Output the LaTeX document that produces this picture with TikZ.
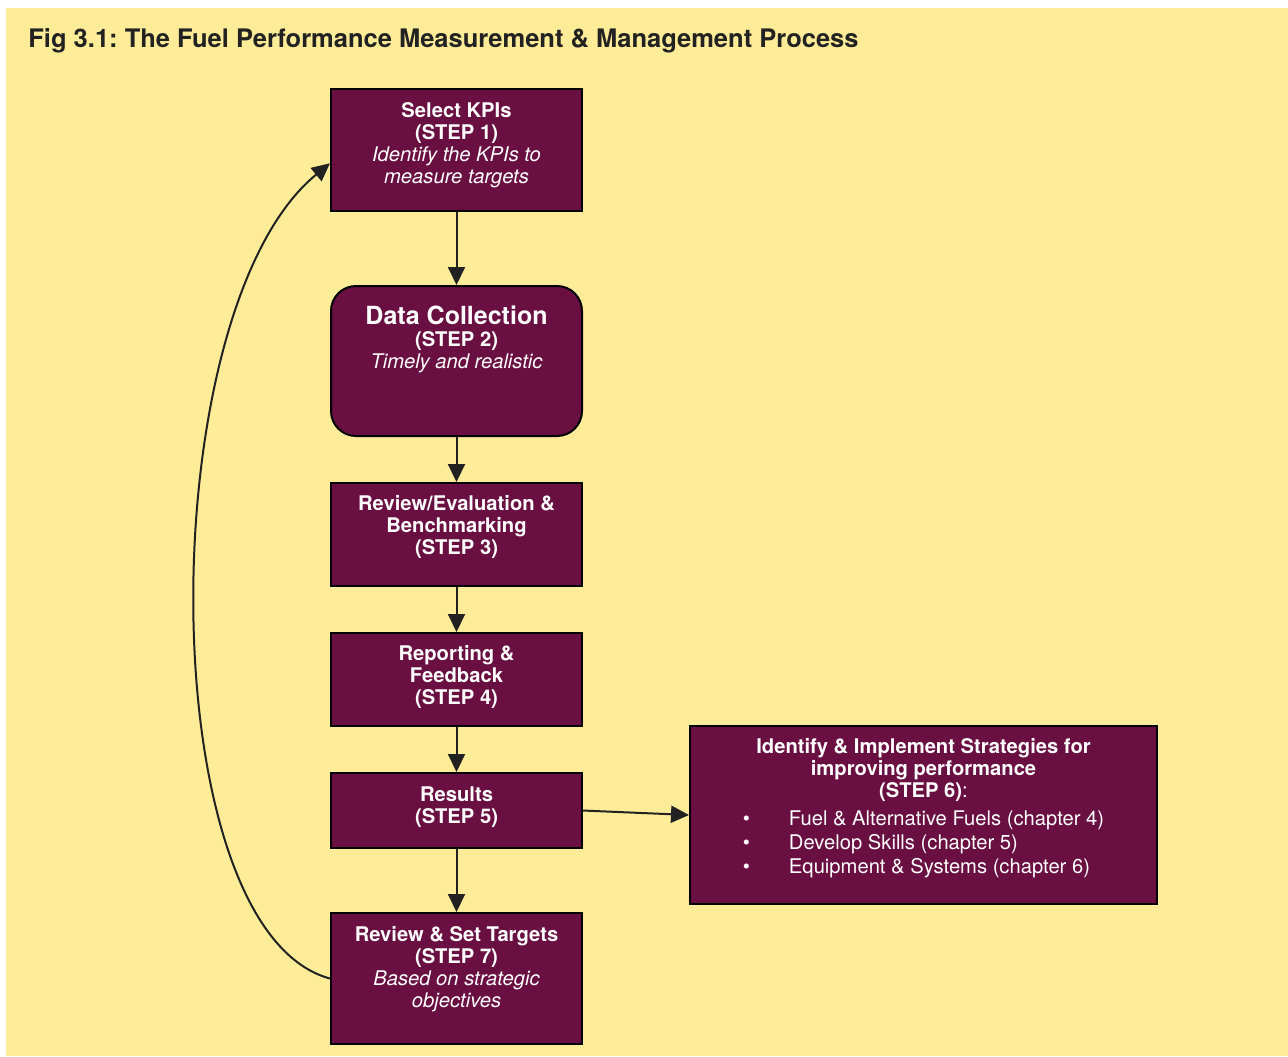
\documentclass[tikz,border=0pt]{standalone}
\usepackage{fontspec}
\setmainfont{TeX Gyre Heros}
\usetikzlibrary{positioning, arrows.meta}
\definecolor{panel}{RGB}{255,236,153}
\definecolor{plum}{RGB}{105,15,65}
\definecolor{ink}{RGB}{34,34,34}
\frenchspacing
\tikzset{
  >={Triangle[length=9pt,width=8.5pt]},
  stepbox/.style={draw=black, line width=1pt, fill=plum, minimum width=125.5pt, inner sep=0pt},
  boxtext/.style={text=white, align=center, inner sep=0pt, font=\fontsize{10.1}{11}\selectfont},
  flow/.style={->, draw=ink, line width=1pt}
}

\begin{document}
\begin{tikzpicture}
      \useasboundingbox (0,0) rectangle (644pt,-528pt);
      \fill[panel] (3pt,-4pt) rectangle (644pt,-528pt);
      \node[anchor=base west, inner sep=0pt, text=ink, font=\fontsize{12.75}{14}\selectfont\bfseries] (title) at (14pt,-23.5pt)
        {Fig 3.1: The Fuel Performance Measurement \& Management Process};

      % boxes
      \node[stepbox, minimum height=61pt] (kpi) at (228.25pt,-75pt) {};
      \node[stepbox, minimum height=75pt, rounded corners=12.5pt] (data) at (228.25pt,-180.5pt) {};
      \node[stepbox, minimum height=51.5pt] (review) at (228.25pt,-267.25pt) {};
      \node[stepbox, minimum height=46.5pt] (report) at (228.25pt,-339.75pt) {};
      \node[stepbox, minimum height=37.5pt] (results) at (228.25pt,-405.25pt) {};
      \node[stepbox, minimum width=233.5pt, minimum height=89pt] (strat) at (461.75pt,-407.5pt) {};
      \node[stepbox, minimum height=65.5pt] (targets) at (228.25pt,-489.25pt) {};

      % texts
      \node[boxtext, below=7pt of kpi.north] (kpitext)
        {\bfseries Select KPIs\\ \bfseries (STEP 1)\\ \itshape Identify the KPIs to\\ \itshape measure targets};
      \node[boxtext, below=10pt of data.north] (datatext)
        {{\fontsize{12.5}{13.5}\selectfont\bfseries Data Collection}\\ \bfseries (STEP 2)\\ \itshape Timely and realistic};
      \node[boxtext, below=6.5pt of review.north] (reviewtext)
        {\bfseries Review/Evaluation \&\\ \bfseries Benchmarking\\ \bfseries (STEP 3)};
      \node[boxtext, below=6.5pt of report.north] (reporttext)
        {\bfseries Reporting \&\\ \bfseries Feedback\\ \bfseries (STEP 4)};
      \node[boxtext, below=7pt of results.north] (resultstext)
        {\bfseries Results\\ \bfseries (STEP 5)};
      \node[boxtext, below=6.5pt of strat.north] (strattext)
        {\bfseries Identify \& Implement Strategies for\\ \bfseries improving performance\\ {\bfseries (STEP 6)}:\\[3pt]
         \renewcommand{\arraystretch}{1.07}%
         \begin{tabular}{@{}l@{\hspace{19.5pt}}l@{}}
           \textbullet & Fuel \& Alternative Fuels (chapter 4)\\
           \textbullet & Develop Skills (chapter 5)\\
           \textbullet & Equipment \& Systems (chapter 6)
         \end{tabular}};
      \node[boxtext, below=7pt of targets.north] (targetstext)
        {\bfseries Review \& Set Targets\\ \bfseries (STEP 7)\\ \itshape Based on strategic\\ \itshape objectives};

      % connectors
      \draw[flow] (kpi) -- (data);
      \draw[flow] (data) -- (review);
      \draw[flow] (review) -- (report);
      \draw[flow] (report) -- (results);
      \draw[flow] (results) -- (targets);
      \draw[flow] (results.east) -- (strat.west);
      \draw[flow] (targets.west) .. controls (75pt,-465pt) and (75pt,-155pt) .. (kpi.186);
    \end{tikzpicture}
\end{document}
